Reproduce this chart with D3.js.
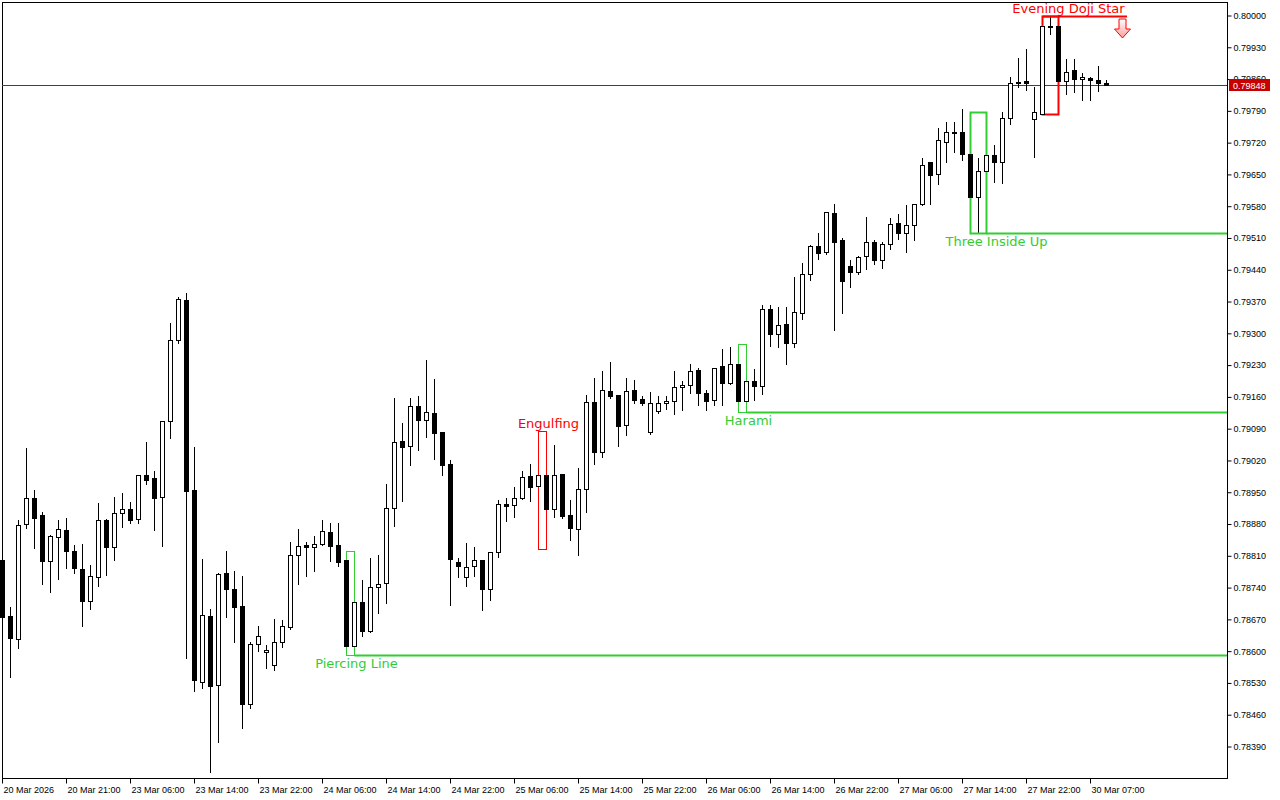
<!DOCTYPE html>
<html><head><meta charset="utf-8">
<script src="https://cdn.jsdelivr.net/npm/d3@7"></script>
<style>body{margin:0;background:#fff}svg{display:block}</style>
</head><body>
<svg id="c" width="1280" height="800"></svg>
<script>
// ---- DATA (hourly OHLC, in units of 1e-5) ----
const openP = [78802,78679,78628,78881,78938,78901,78800,78852,78868,78822,78782,78712,78764,78890,78830,78905,78914,78892,78989,78982,
78941,79108,79286,79374,78956,78533,78679,78527,78773,78738,78700,78485,78617,78599,78571,78621,78654,78813,78835,78830,
78837,78864,78835,78802,78612,78709,78645,78742,78751,78916,79064,79053,79141,79110,79126,79084,79013,78797,78764,78789,
78802,78738,78820,78925,78923,78938,78987,78965,78989,78914,78991,78901,78870,78958,79150,79040,79174,79165,79099,79176,
79156,79084,79130,79148,79152,79183,79187,79220,79170,79154,79229,79192,79234,79152,79196,79185,79355,79300,79322,79280,
79346,79432,79493,79480,79566,79507,79449,79436,79471,79502,79463,79498,79544,79522,79540,79586,79678,79652,79722,79745,
79745,79696,79601,79659,79694,79678,79775,79852,79857,79773,79784,79978,79978,79857,79881,79861,79863,79859,79852];
const highP = [78806,78698,78890,79048,78956,78908,78857,78890,78894,78835,78837,78791,78927,78892,78941,78949,78930,78989,79062,78998,
79108,79324,79381,79390,79051,78804,78694,78773,78822,78778,78767,78621,78657,78615,78672,78670,78842,78870,78842,78855,
78890,78883,78883,78822,78747,78758,78806,78813,78969,79159,79104,79159,79163,79242,79200,79084,79022,78806,78839,78830,
78802,78820,78934,78938,78963,78998,79013,79060,79086,79055,78991,78934,79004,79165,79203,79218,79238,79165,79203,79198,
79163,79172,79163,79163,79218,79196,79234,79225,79176,79225,79267,79271,79278,79253,79222,79363,79363,79359,79359,79425,
79456,79496,79522,79568,79586,79511,79463,79471,79557,79507,79502,79555,79564,79584,79586,79687,79678,79753,79767,79767,
79795,79705,79687,79789,79716,79789,79866,79908,79927,79844,79991,80000,79991,79905,79905,79874,79866,79890,79859];
const lowP = [78674,78544,78608,78872,78828,78749,78731,78760,78784,78773,78657,78694,78745,78769,78802,78874,78883,78883,78969,78868,
78833,79070,79280,78586,78513,78520,78335,78401,78676,78621,78432,78476,78601,78564,78560,78610,78650,78749,78767,78778,
78835,78800,78789,78593,78604,78634,78643,78685,78707,78877,78932,79011,79044,79073,79024,78989,78703,78764,78745,78767,
78692,78714,78808,78888,78897,78936,78932,78908,78826,78897,78894,78846,78813,78908,79013,79029,79159,79053,79077,79148,
79143,79079,79126,79134,79123,79132,79170,79143,79132,79143,79143,79190,79128,79130,79154,79167,79273,79271,79234,79271,
79333,79419,79465,79476,79308,79346,79403,79432,79443,79454,79445,79487,79509,79480,79507,79584,79586,79630,79678,79700,
79683,79551,79522,79650,79634,79632,79762,79844,79837,79689,79784,79960,79841,79828,79833,79815,79815,79835,79848];
const closeP = [78676,78630,78879,78938,78894,78800,78855,78870,78822,78784,78712,78767,78890,78830,78905,78914,78890,78989,78978,78938,
79108,79286,79377,78954,78537,78681,78524,78771,78738,78698,78485,78617,78634,78604,78621,78657,78813,78833,78830,78837,
78866,78833,78797,78612,78709,78645,78742,78749,78916,79062,79051,79141,79110,79128,79082,79011,78804,78789,78786,78802,
78738,78820,78925,78921,78938,78985,78963,78989,78914,78989,78899,78872,78958,79150,79040,79176,79163,79097,79174,79154,
79148,79148,79148,79152,79183,79187,79218,79170,79152,79225,79192,79234,79152,79196,79185,79355,79300,79319,79280,79348,
79432,79493,79478,79568,79502,79416,79436,79469,79502,79463,79498,79542,79522,79540,79586,79672,79650,79727,79745,79742,
79696,79601,79659,79694,79678,79775,79852,79855,79852,79789,79978,79979,79857,79877,79861,79866,79859,79852,79848];

const timeLabels = ["20 Mar 2026","20 Mar 21:00","23 Mar 06:00","23 Mar 14:00","23 Mar 22:00","24 Mar 06:00","24 Mar 14:00",
"24 Mar 22:00","25 Mar 06:00","25 Mar 14:00","25 Mar 22:00","26 Mar 06:00","26 Mar 14:00","26 Mar 22:00","27 Mar 06:00",
"27 Mar 14:00","27 Mar 22:00","30 Mar 07:00"];
const timeLabelBars = [0,8,16,24,32,40,48,56,64,72,80,88,96,104,112,120,128,136];
const priceTicks = [0.80000,0.79930,0.79860,0.79790,0.79720,0.79650,0.79580,0.79510,0.79440,0.79370,0.79300,0.79230,0.79160,
0.79090,0.79020,0.78950,0.78880,0.78810,0.78740,0.78670,0.78600,0.78530,0.78460,0.78390];
const lastPrice = 0.79848;

const patternNames = ["Piercing Line","Engulfing","Harami","Three Inside Up","Evening Doji Star"];
const patternStart = [43,67,92,121,130];
const patternEnd   = [44,68,93,123,132];
const patternBull  = [true,false,true,true,false];
const patternLabelBar = [44,68,93,124,133];
const patternLine  = ["edge","none","edge","edge","signal"];
const signalBar = 140;

// ---- LAYOUT ----
const L = 2, T = 2, R = 1227, B = 779;
const svg = d3.select("#c");
const candles = openP.map((o,i)=>({i,o:o/1e5,h:highP[i]/1e5,l:lowP[i]/1e5,c:closeP[i]/1e5}));
const x = d3.scaleLinear().domain([0,138]).range([2.5,1106.5]);
const y = d3.scaleLinear().domain([0.78390,0.80000]).range([747,16]);
const GREEN = "#32cd32", RED = "#ff0000";

// frame
svg.append("rect").attr("x",L+0.5).attr("y",T+0.5).attr("width",R-L).attr("height",B-T-1)
  .attr("fill","none").attr("stroke","#000").attr("stroke-width",1);

const plot = svg.append("g");

// current price line
plot.append("line").attr("x1",L).attr("x2",R).attr("y1",Math.round(y(lastPrice))+0.5).attr("y2",Math.round(y(lastPrice))+0.5)
  .attr("stroke","#a01818").attr("stroke-width",1);

// wicks
plot.append("g").selectAll("line").data(candles).join("line")
  .attr("x1",d=>x(d.i)).attr("x2",d=>x(d.i))
  .attr("y1",d=>Math.round(y(d.h))).attr("y2",d=>Math.round(y(d.l))+1)
  .attr("stroke","#000").attr("stroke-width",1);

// pattern boxes & lines
const pats = patternNames.map((n,k)=>{
  const seg = candles.slice(patternStart[k],patternEnd[k]+1);
  return {n,k,s:patternStart[k],e:patternEnd[k],bull:patternBull[k],
    hi:d3.max(seg,d=>d.h),lo:d3.min(seg,d=>d.l),cnt:seg.length,lab:patternLabelBar[k],line:patternLine[k]};
});
const pg = plot.append("g");
pats.forEach(p=>{
  const col = p.bull?GREEN:RED;
  const sw = p.cnt===3?2:1;
  const top = Math.round(y(p.hi)), bot = Math.round(y(p.lo));
  pg.append("rect").attr("x",x(p.s)).attr("y",top+0.5).attr("width",x(p.e)-x(p.s)).attr("height",bot-top)
    .attr("fill","none").attr("stroke",col).attr("stroke-width",sw);
  if(p.line==="edge"){
    pg.append("line").attr("x1",x(p.e)).attr("x2",R).attr("y1",bot+0.5).attr("y2",bot+0.5)
      .attr("stroke",col).attr("stroke-width",2);
  } else if(p.line==="signal"){
    pg.append("line").attr("x1",x(p.s)).attr("x2",x(signalBar)+4.5).attr("y1",top+0.5).attr("y2",top+0.5)
      .attr("stroke",col).attr("stroke-width",2);
  }
  const tx = x(p.lab)+2;
  pg.append("text").attr("x",tx).attr("y",p.bull?bot+13:top-3)
    .attr("text-anchor","middle").attr("fill",col)
    .attr("font-family","DejaVu Sans, sans-serif").attr("font-size","13px").text(p.n);
  if(p.line==="signal"){
    // hollow down arrow
    const ax = x(signalBar), ay = top+3;
    const defs = svg.append("defs");
    const gr = defs.append("linearGradient").attr("id","ag").attr("x1",0).attr("y1",0).attr("x2",0).attr("y2",1);
    gr.append("stop").attr("offset","0%").attr("stop-color","#ffffff");
    gr.append("stop").attr("offset","100%").attr("stop-color","#ff9c9c");
    const path = d3.path();
    path.moveTo(ax-3.5,ay); path.lineTo(ax+3.5,ay); path.lineTo(ax+3.5,ay+10);
    path.lineTo(ax+8,ay+10); path.lineTo(ax,ay+19); path.lineTo(ax-8,ay+10);
    path.lineTo(ax-3.5,ay+10); path.closePath();
    pg.append("path").attr("d",path.toString()).attr("fill","url(#ag)").attr("stroke",RED).attr("stroke-width",1);
  }
});

// bodies
plot.append("g").selectAll("rect").data(candles).join("rect")
  .attr("x",d=>x(d.i)-2).attr("width",4)
  .attr("y",d=>Math.round(y(Math.max(d.o,d.c)))+0.5)
  .attr("height",d=>Math.max(1,Math.round(y(Math.min(d.o,d.c)))-Math.round(y(Math.max(d.o,d.c)))))
  .attr("fill",d=>d.c<d.o?"#000":"#fff").attr("stroke","#000").attr("stroke-width",1);

// right price axis
const ya = svg.append("g").attr("transform",`translate(${R+0.5},0)`)
  .call(d3.axisRight(y).tickValues(priceTicks).tickFormat(d3.format(".5f")).tickSize(4).tickPadding(2).offset(0));
ya.select(".domain").remove();
ya.selectAll(".tick line").attr("stroke","#000");
ya.selectAll("text").attr("font-family","Liberation Sans, Arial, sans-serif").attr("font-size","9px").attr("fill","#000");
ya.attr("font-size",null).attr("font-family",null);
svg.append("line").attr("x1",R+0.5).attr("x2",R+0.5).attr("y1",T).attr("y2",B).attr("stroke","#000");

// bottom time axis
const xa = svg.append("g").attr("transform",`translate(0,${B-0.5})`)
  .call(d3.axisBottom(x).tickValues(timeLabelBars).tickFormat((d,i)=>timeLabels[i]).tickSize(5).tickPadding(3).offset(0));
xa.select(".domain").remove();
xa.selectAll(".tick line").attr("stroke","#000");
xa.selectAll("text").attr("text-anchor","start").attr("dx","1")
  .attr("font-family","Liberation Sans, Arial, sans-serif").attr("font-size","9px").attr("fill","#000");
xa.attr("font-size",null).attr("font-family",null);

// last price label
const ly = Math.round(y(lastPrice));
svg.append("rect").attr("x",R+2).attr("y",ly-6).attr("width",41).attr("height",12).attr("fill","#c80000");
svg.append("text").attr("x",R+6).attr("y",ly+3.5).attr("fill","#fff")
  .attr("font-family","Liberation Sans, Arial, sans-serif").attr("font-size","9px").text(d3.format(".5f")(lastPrice));
</script>
</body></html>
